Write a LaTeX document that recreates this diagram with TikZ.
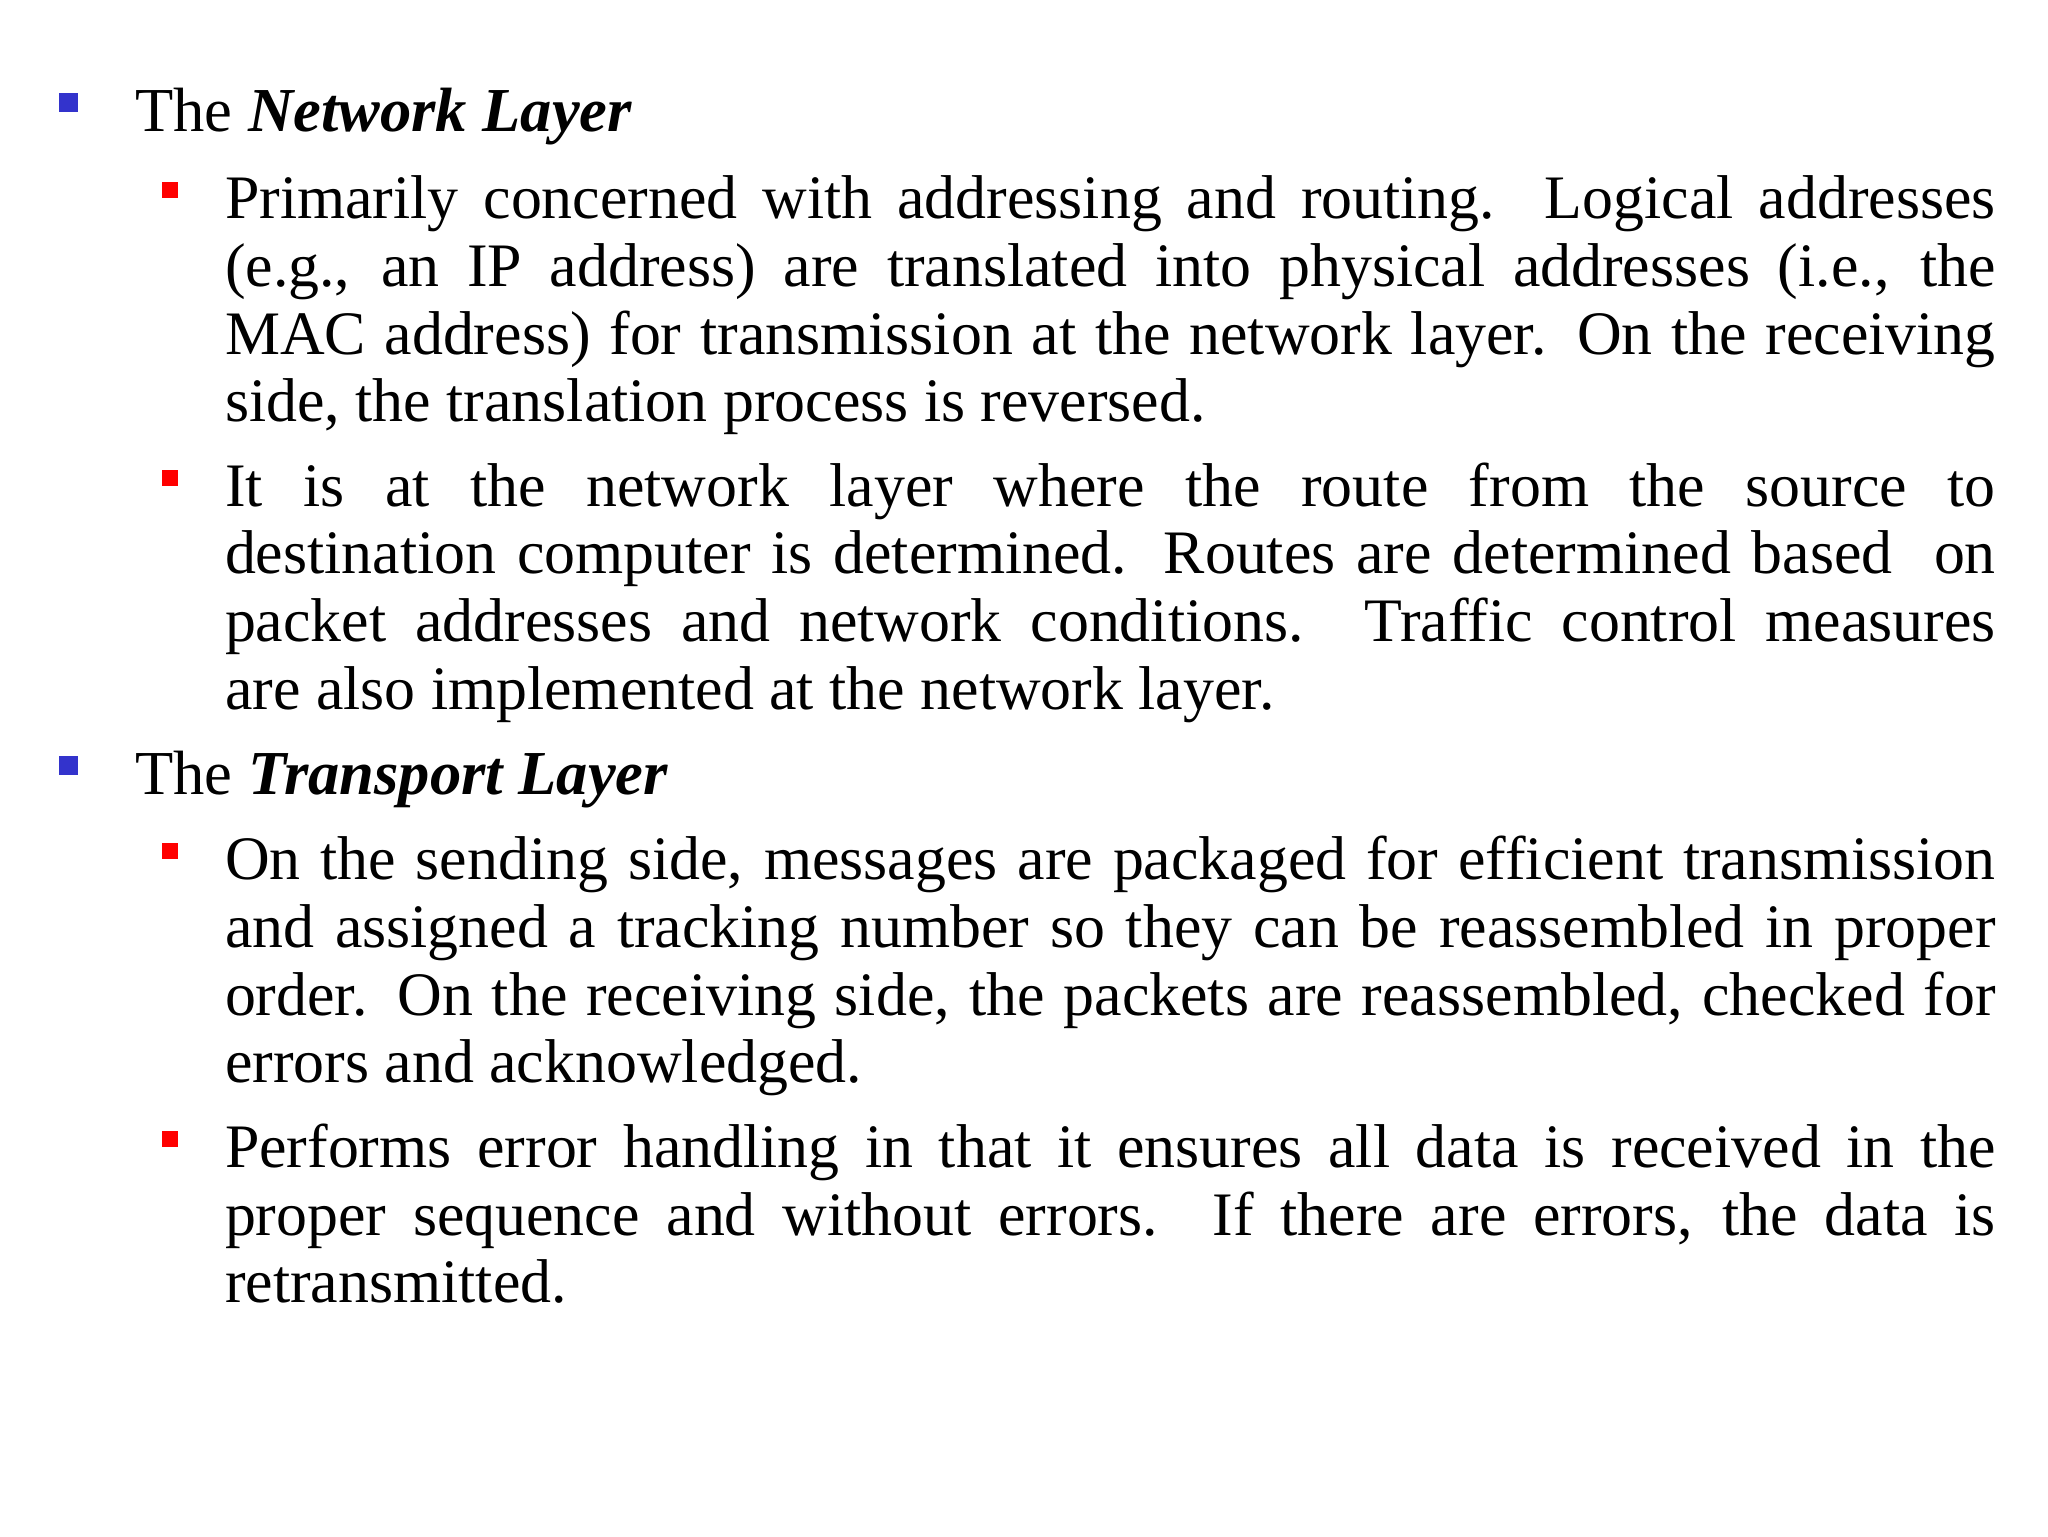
\documentclass[tikz,border=0pt]{standalone}
\usepackage{fontspec}
\setmainfont{Liberation Serif}
\definecolor{bblue}{RGB}{51,51,204}
\definecolor{bred}{RGB}{255,0,0}
\newcommand{\nohy}{\hyphenpenalty=10000 \exhyphenpenalty=10000 \tolerance=10000 }
\begin{document}
\begin{tikzpicture}[x=0.013196cm,y=-0.013196cm,
  para/.style={anchor=north west,inner sep=0pt,text width=17.71cm,align=justify,font=\fontsize{17.6}{19.3}\selectfont},
  head/.style={anchor=base west,inner sep=0pt,font=\fontsize{17.8}{19.3}\selectfont},
  bb/.style={fill=bblue,draw=none,minimum size=0.19cm,inner sep=0pt},
  rb/.style={fill=bred,draw=none,minimum size=0.16cm,inner sep=0pt}]
\useasboundingbox (0,0) rectangle (1552,1164);
\node[bb] (b1) at (52,78) {};
\node[head] (h1) at (102,100) {The \textbf{\textit{Network Layer}}};
\node[rb] (r1) at (129,144) {};
\node[para] (p1) at (170,151-22) {\nohy\strut Primarily concerned with addressing and routing.\ \ Logical addresses\linebreak (e.g., an IP address) are translated into physical addresses (i.e., the\linebreak MAC address) for transmission at the network layer. On the receiving\linebreak side, the translation process is reversed.};
\node[rb] (r2) at (129,362) {};
\node[para] (p2) at (170,369-22) {\nohy\strut It is at the network layer where the route from the source to\linebreak destination computer is determined. Routes are determined based\ \ on\linebreak packet addresses and network conditions. Traffic control measures\linebreak are also implemented at the network layer.};
\node[bb] (b2) at (52,580) {};
\node[head] (h2) at (102,602) {The \textbf{\textit{Transport Layer}}};
\node[rb] (r3) at (129,645) {};
\node[para] (p3) at (170,652-22) {\nohy\strut On the sending side, messages are packaged for efficient transmission\linebreak and assigned a tracking number so they can be reassembled in proper\linebreak order. On the receiving side, the packets are reassembled, checked for\linebreak errors and acknowledged.};
\node[rb] (r4) at (129,863) {};
\node[para] (p4) at (170,870-22) {\nohy\strut Performs error handling in that it ensures all data is received in the\linebreak proper sequence and without errors. If there are errors, the data is\linebreak retransmitted.};
\end{tikzpicture}
\end{document}
